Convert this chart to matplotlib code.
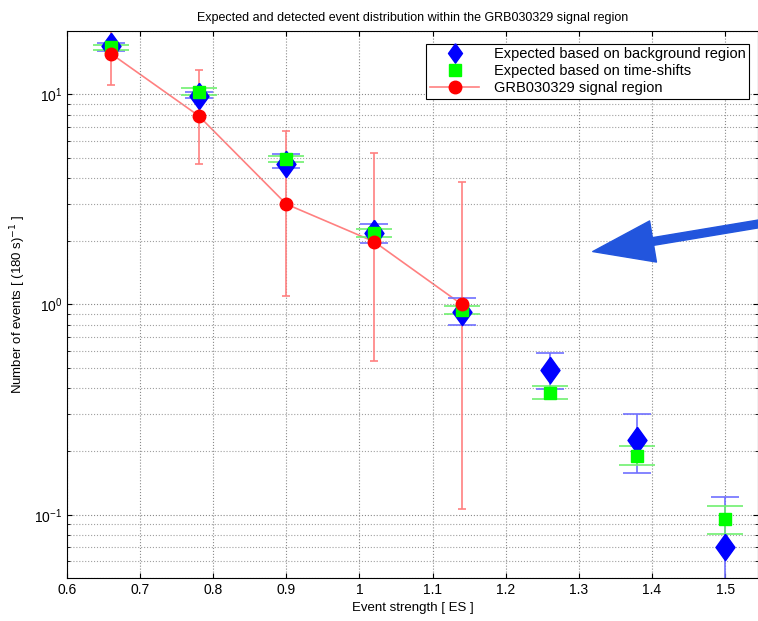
import matplotlib.pyplot as plt
import numpy as np

plt.rcParams['font.family'] = ['Liberation Sans', 'DejaVu Sans']

es = [0.66, 0.78, 0.90, 1.02, 1.14, 1.26, 1.38, 1.50]

bkg = [16.9, 9.8, 4.66, 2.19, 0.92, 0.487, 0.227, 0.070]
bkg_lo = [16.0, 9.6, 4.46, 1.97, 0.795, 0.395, 0.158, 0.04]
bkg_hi = [17.5, 10.3, 5.2, 2.42, 1.07, 0.59, 0.30, 0.122]

shift = [16.7, 10.3, 4.92, 2.19, 0.94, 0.38, 0.19, 0.095]
shift_lo = [16.2, 9.9, 4.75, 2.10, 0.90, 0.355, 0.173, 0.081]
shift_hi = [17.2, 10.7, 5.10, 2.28, 0.98, 0.41, 0.212, 0.11]

sig_es = [0.66, 0.78, 0.90, 1.02, 1.14]
sig = [15.6, 7.9, 3.0, 1.99, 1.0]
sig_lo = [11.1, 4.66, 1.1, 0.537, 0.106]
sig_hi = [20.0, 13.0, 6.7, 5.25, 3.83]

# matlab-like diamond, a bit taller than wide
diamond = [(0, 1), (0.72, 0), (0, -1), (-0.72, 0), (0, 1)]


def errs(v, lo, hi):
    v = np.array(v)
    return [v - np.array(lo), np.array(hi) - v]


fig = plt.figure(figsize=(7.58, 6.21), dpi=100)
ax = fig.add_axes([0.0884, 0.0692, 0.9116, 0.881])

ax.errorbar(es, bkg, yerr=errs(bkg, bkg_lo, bkg_hi), fmt='none',
            ecolor='#7070ff', elinewidth=1.2, capsize=10, capthick=1.2)
ax.errorbar(es, shift, yerr=errs(shift, shift_lo, shift_hi), fmt='none',
            ecolor='#70f070', elinewidth=1.2, capsize=13, capthick=1.2)
ax.errorbar(sig_es, sig, yerr=errs(sig, sig_lo, sig_hi), fmt='none',
            ecolor='#ff8080', elinewidth=1.2, capsize=3, capthick=1.2)

ax.plot(sig_es, sig, '-', color='#ff8080', linewidth=1.2, zorder=1.5)
h1, = ax.plot(es, bkg, marker=diamond, color='#0000ff', markersize=19,
              linestyle='none', label='Expected based on background region')
h2, = ax.plot(es, shift, 's', color='#00ff00', markersize=8, linestyle='none',
              label='Expected based on time-shifts')
h3, = ax.plot(sig_es, sig, 'o', color='#ff0000', markersize=9,
              linestyle='none', label='GRB030329 signal region')
h3b, = ax.plot([], [], '-o', color='#ff8080', markerfacecolor='#ff0000',
               markeredgecolor='#ff0000', markersize=9, linewidth=1.2)

ax.set_yscale('log')
ax.set_xlim(0.6, 1.545)
ax.set_ylim(0.05, 20)
ax.set_xticks(np.arange(0.6, 1.51, 0.1))
ax.set_xticklabels(['0.6', '0.7', '0.8', '0.9', '1', '1.1', '1.2', '1.3', '1.4', '1.5'])
ax.tick_params(which='both', direction='in', labelsize=10, top=True, right=True)
ax.grid(True, which='major', linestyle=':', color='#8a8a8a', linewidth=0.8)
ax.grid(True, which='minor', axis='y', linestyle=':', color='#a0a0a0', linewidth=0.8)

ax.set_title('Expected and detected event distribution within the GRB030329 signal region',
             fontsize=9, pad=7)
ax.set_xlabel('Event strength [ ES ]', fontsize=9.5)
ax.set_ylabel('Number of events [ (180 s)$^{-1}$ ]', fontsize=9.5)

leg = ax.legend([h1, h2, h3b], [h1.get_label(), h2.get_label(), h3.get_label()],
                loc='upper right', bbox_to_anchor=(0.998, 0.99), fontsize=10.5,
                fancybox=False, edgecolor='black', framealpha=1,
                handlelength=3.4, borderpad=0.25, labelspacing=0.2,
                handletextpad=1.0)
leg.get_frame().set_linewidth(0.8)
leg.legend_handles[0].set_markersize(14)
leg.legend_handles[1].set_markersize(9)

ax.annotate('', xy=(590, 621 - 252), xycoords='figure pixels',
            xytext=(770, 621 - 222), textcoords='figure pixels',
            arrowprops=dict(arrowstyle='simple,head_length=2.2,head_width=1.5,tail_width=0.28',
                            color='#2255dd', mutation_scale=20),
            annotation_clip=False)

fig.savefig('out.png', dpi=100)
